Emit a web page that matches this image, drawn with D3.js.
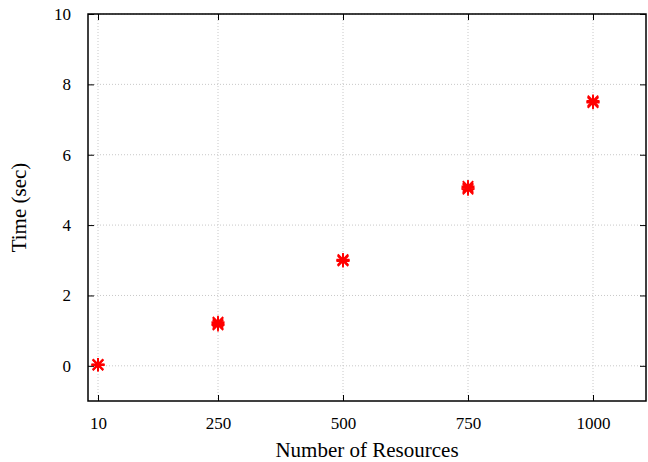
<!DOCTYPE html>
<html>
<head>
<meta charset="utf-8">
<script src="https://cdn.jsdelivr.net/npm/d3@7"></script>
<style>
  body { margin: 0; background: #fff; }
  svg text { font-family: "Liberation Serif", "Times New Roman", serif !important; fill: #000; }
</style>
</head>
<body>
<div id="chart"></div>
<script>
// repeated runs per resource count
const resources = [10, 10, 10, 250, 250, 250, 500, 500, 500, 750, 750, 750, 1000, 1000, 1000];
const times = [0.02, 0.03, 0.04, 1.16, 1.2, 1.24, 2.98, 3.0, 3.02, 5.02, 5.06, 5.1, 7.48, 7.5, 7.53];
const xTicks = [10, 250, 500, 750, 1000];
const yTicks = [0, 2, 4, 6, 8, 10];

const margin = {top: 14, right: 2, bottom: 61, left: 88},
    width = 648 - margin.left - margin.right,
    height = 462 - margin.top - margin.bottom;

const svg = d3.select("#chart")
  .append("svg")
    .attr("width", 648)
    .attr("height", 462)
  .append("g")
    .attr("transform", `translate(${margin.left},${margin.top})`);

const x = d3.scaleLinear().domain([-10, 1106]).range([0, width]);
const y = d3.scaleLinear().domain([-1, 10]).range([height, 0]);

// grid
svg.append("g").selectAll("line")
  .data(yTicks).join("line")
    .attr("x1", 0).attr("x2", width)
    .attr("y1", d => y(d)).attr("y2", d => y(d))
    .attr("stroke", "#c8c8c8").attr("stroke-dasharray", "1,2");
svg.append("g").selectAll("line")
  .data(xTicks).join("line")
    .attr("x1", d => x(d)).attr("x2", d => x(d))
    .attr("y1", 0).attr("y2", height)
    .attr("stroke", "#c8c8c8").attr("stroke-dasharray", "1,2");

// axes (inward ticks, mirrored)
const xAxis = svg.append("g")
  .attr("transform", `translate(0,${height})`)
  .call(d3.axisBottom(x).tickValues(xTicks).tickSize(-6).tickPadding(16).tickFormat(d3.format("d")));
const xTop = svg.append("g")
  .call(d3.axisTop(x).tickValues(xTicks).tickSize(-6).tickFormat(""));
const yAxis = svg.append("g")
  .call(d3.axisLeft(y).tickValues(yTicks).tickSize(-6).tickPadding(17));
const yRight = svg.append("g")
  .attr("transform", `translate(${width},0)`)
  .call(d3.axisRight(y).tickValues(yTicks).tickSize(-6).tickFormat(""));

[xAxis, xTop, yAxis, yRight].forEach(a => {
  a.attr("font-family", "Liberation Serif, serif").attr("font-size", 17);
  a.select(".domain").remove();
  a.selectAll("line").attr("stroke", "#000");
});

svg.append("rect")
  .attr("width", width).attr("height", height)
  .attr("fill", "none").attr("stroke", "#000").attr("stroke-width", 1.5);

// star markers
const pts = resources.map((r, i) => ({r: r, t: times[i]}));
const s = 6.5;
const star = `M${-s},0L${s},0M0,${-s}L0,${s}M${-s*0.8},${-s*0.8}L${s*0.8},${s*0.8}M${-s*0.8},${s*0.8}L${s*0.8},${-s*0.8}`;
svg.append("g").selectAll("path")
  .data(pts).join("path")
    .attr("transform", d => `translate(${x(d.r)},${y(d.t)})`)
    .attr("d", star)
    .attr("stroke", "#ff0000")
    .attr("stroke-width", 1.8)
    .attr("fill", "none");

// labels
svg.append("text")
  .attr("x", width / 2).attr("y", height + 56)
  .attr("text-anchor", "middle")
  .style("font-size", "21px")
  .text("Number of Resources");
svg.append("text")
  .attr("transform", `translate(${-62},${height / 2}) rotate(-90)`)
  .attr("text-anchor", "middle")
  .style("font-size", "21px")
  .text("Time (sec)");
</script>
</body>
</html>
